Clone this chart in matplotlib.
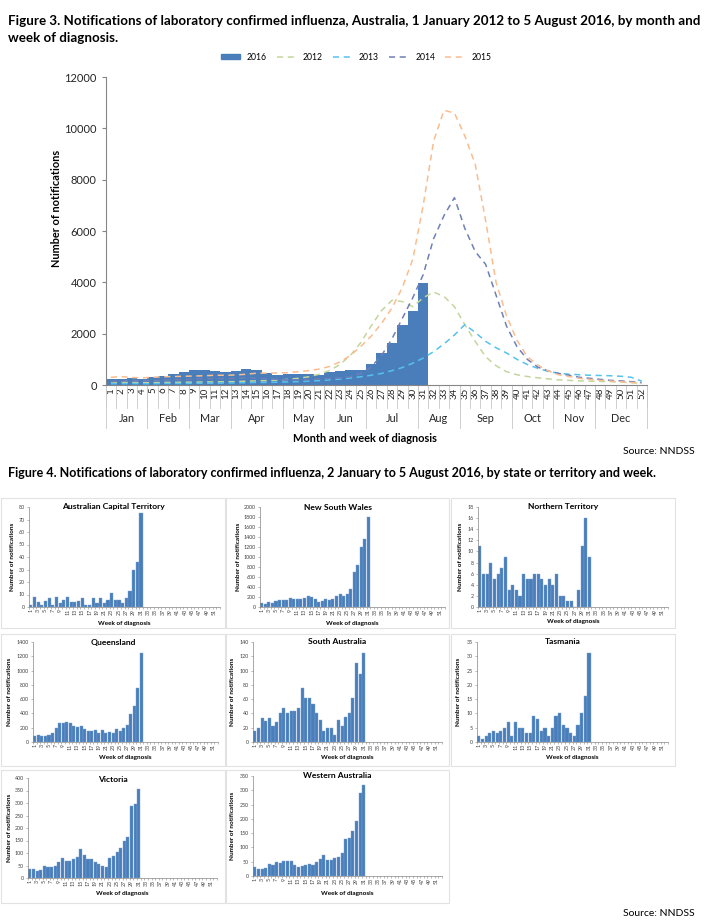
import numpy as np
import matplotlib
matplotlib.use('Agg')
import matplotlib.pyplot as plt
import matplotlib.transforms as mtransforms
from matplotlib.patches import Rectangle
from matplotlib.lines import Line2D

plt.rcParams['font.family'] = ['Lato', 'DejaVu Sans']

W, H = 713, 924

# ---- Figure 3 data ----
weeks = np.arange(1, 53)
weeks_2016 = np.arange(1, 32)

y2016 = [240, 230, 260, 230, 300, 350, 410, 520, 580, 600, 560, 510, 530, 640, 570, 480,
         400, 430, 410, 440, 400, 490, 550, 570, 600, 830, 1260, 1620, 2350, 2870, 3960]

y2012 = [100, 110, 100, 90, 90, 100, 100, 110, 110, 120, 120, 130, 130, 150, 160, 170,
         190, 220, 260, 320, 420, 560, 800, 1150, 1650, 2300, 2900, 3300, 3250, 3050, 3400, 3620,
         3450, 3050, 2350, 1700, 1100, 750, 520, 400, 330, 280, 240, 200, 180, 160, 150, 140,
         130, 110, 90, 70]

y2013 = [50, 50, 60, 50, 50, 60, 60, 60, 70, 70, 70, 80, 80, 90, 100, 100,
         110, 120, 130, 150, 170, 200, 230, 270, 320, 380, 450, 560, 680, 850, 1050, 1300,
         1600, 1950, 2350, 2050, 1700, 1450, 1250, 1000, 800, 650, 530, 460, 420, 400, 380, 370,
         360, 340, 300, 150]

y2014 = [130, 150, 170, 160, 170, 190, 200, 220, 230, 240, 250, 250, 260, 280, 260, 240,
         220, 200, 200, 210, 230, 250, 270, 320, 450, 700, 1150, 1800, 2600, 3400, 4300, 5700,
         6600, 7300, 6100, 5200, 4700, 3500, 2300, 1500, 1000, 700, 550, 450, 380, 300, 260, 220,
         180, 160, 130, 90]

y2015 = [300, 330, 290, 280, 300, 320, 330, 340, 350, 360, 380, 380, 390, 420, 460, 460,
         470, 480, 520, 560, 620, 720, 900, 1150, 1500, 1900, 2400, 3000, 3800, 4900, 7000, 9500,
         10700, 10600, 9700, 8600, 6400, 4000, 2700, 1750, 1100, 780, 550, 400, 330, 260, 220, 180,
         150, 130, 100, 70]

month_names = ['Jan', 'Feb', 'Mar', 'Apr', 'May', 'Jun', 'Jul', 'Aug', 'Sep', 'Oct', 'Nov', 'Dec']
month_len = [4, 4, 4, 5, 4, 4, 5, 4, 5, 4, 4, 5]

# ---- Figure 4 data (weeks 1-31, 2016) ----
act = [2, 8, 4, 2, 5, 7, 2, 8, 3, 6, 8, 4, 4, 5, 7, 2, 2, 7, 3, 7, 3, 6, 11, 6, 6, 3, 7, 13, 30, 36, 75]
nsw = [80, 60, 100, 90, 120, 140, 140, 150, 180, 160, 160, 160, 180, 230, 210, 160,
       110, 130, 160, 150, 170, 230, 260, 230, 270, 360, 700, 850, 1200, 1370, 1800]
nt = [11, 6, 6, 8, 5, 6, 7, 9, 3, 4, 3, 2, 6, 5, 5, 6, 6, 5, 4, 5, 4, 6, 2, 2, 1, 1, 0, 3, 11, 16, 9]
qld = [80, 100, 90, 80, 100, 120, 190, 260, 260, 285, 260, 230, 210, 220, 185, 160,
       150, 170, 130, 165, 120, 135, 130, 180, 150, 190, 240, 390, 510, 750, 1250]
sa = [15, 19, 33, 29, 34, 22, 28, 41, 47, 40, 44, 44, 48, 76, 62, 62, 53, 40, 31, 15, 19, 19,
      10, 31, 23, 35, 40, 62, 110, 95, 125]
tas = [2, 1, 2, 3, 4, 3, 4, 5, 7, 2, 7, 5, 5, 3, 3, 9, 8, 4, 5, 2, 5, 9, 10, 6, 5, 3, 2, 6, 10, 16, 31]
vic = [38, 35, 28, 32, 50, 45, 43, 50, 65, 80, 70, 70, 75, 85, 118, 92, 75, 75, 65, 55, 50, 45,
       80, 88, 103, 120, 148, 165, 290, 297, 357]
wa = [30, 25, 25, 28, 42, 38, 48, 45, 53, 53, 53, 38, 30, 35, 37, 42, 40, 48, 60, 72, 55, 55,
      62, 68, 80, 128, 132, 157, 192, 292, 318]

state_names = ['Australian Capital Territory', 'New South Wales', 'Northern Territory',
               'Queensland', 'South Australia', 'Tasmania', 'Victoria', 'Western Australia']
state_values = [act, nsw, nt, qld, sa, tas, vic, wa]
state_ymax = [80, 2000, 18, 1400, 140, 35, 400, 350]
state_ystep = [10, 200, 2, 200, 20, 5, 50, 50]

fig = plt.figure(figsize=(W / 100, H / 100), dpi=100)


def px_axes(l, t, r, b):
    return fig.add_axes([l / W, 1 - b / H, (r - l) / W, (b - t) / H])


def px_text(x, y, s, **kw):
    return fig.text(x / W, 1 - y / H, s, **kw)


# ---------- Figure 3 ----------
px_text(8, 21, 'Figure 3. Notifications of laboratory confirmed influenza, Australia, 1 January 2012 to 5 August 2016, by month and',
        fontsize=9.6, fontweight='bold', va='center')
px_text(8, 38, 'week of diagnosis.', fontsize=9.6, fontweight='bold', va='center')

ax = px_axes(105.7, 77, 647, 385)
ax.bar(weeks_2016, y2016, width=1.0, color='#4a7ebb', zorder=2)
line_specs = [(y2012, '#c3d69b'), (y2013, '#55c2ee'), (y2014, '#6f80b8'), (y2015, '#f9bd8f')]
for vals, col in line_specs:
    ax.plot(weeks, vals, color=col, lw=1.1, dashes=(4, 3), zorder=3)

ax.set_xlim(0.5, 52.5)
ax.set_ylim(0, 12000)
ax.set_yticks(range(0, 12001, 2000))
ax.tick_params(axis='y', labelsize=8, colors='#868686', labelcolor='#262626', length=3)
ax.set_xticks(weeks)
ax.set_xticklabels([str(w) for w in weeks], rotation=90, fontsize=7, color='#262626')
ax.tick_params(axis='x', length=0, pad=2)
for s in ['top', 'right']:
    ax.spines[s].set_visible(False)
for s in ['left', 'bottom']:
    ax.spines[s].set_color('#868686')
    ax.spines[s].set_linewidth(0.8)

trans = mtransforms.blended_transform_factory(ax.transData, ax.transAxes)
for b in np.arange(0.5, 53.0, 1.0):
    ax.plot([b, b], [0, -0.075], transform=trans, color='#c8c8c8', lw=0.6, clip_on=False)
edges = np.concatenate([[0.5], 0.5 + np.cumsum(month_len)])
for b in edges:
    ax.plot([b, b], [0, -0.14], transform=trans, color='#c8c8c8', lw=0.6, clip_on=False)
for name, a, b in zip(month_names, edges[:-1], edges[1:]):
    ax.text((a + b) / 2, -0.11, name, transform=trans, ha='center', va='center',
            fontsize=7.8, color='#262626')

px_text(365, 438, 'Month and week of diagnosis', fontsize=7.9, fontweight='bold',
        ha='center', va='center')
px_text(57, 208, 'Number of notifications', fontsize=7.9, fontweight='bold',
        ha='center', va='center', rotation=90)

handles = [Rectangle((0, 0), 1, 1, color='#4a7ebb')]
for vals, col in line_specs:
    handles.append(Line2D([], [], color=col, lw=1.1, dashes=(4, 3)))
fig.legend(handles, ['2016', '2012', '2013', '2014', '2015'], loc='center',
           bbox_to_anchor=(356 / W, 1 - 57 / H), ncol=5, frameon=False, fontsize=6.2,
           handlelength=2.2, handleheight=0.5, handletextpad=0.8, columnspacing=1.2)

px_text(695, 451, 'Source: NNDSS', fontsize=7.5, ha='right', va='center')

# ---------- Figure 4 ----------
px_text(8, 473, 'Figure 4. Notifications of laboratory confirmed influenza, 2 January to 5 August 2016, by state or territory and week.',
        fontsize=9.0, fontweight='bold', va='center')

# box (l, t, r, b), axes (l, t, r, b), title y, ylabel x, xlabel y
layout = [
    ((1, 498, 225, 628), (29, 507, 220, 607), 507, 13, 623),
    ((226, 498, 449, 628), (260, 507, 445, 607), 507, 238, 623),
    ((451, 498, 675, 628), (478, 507, 668, 607), 507, 460, 622),
    ((1, 634, 225, 766), (33, 642, 218, 742), 642, 10, 758),
    ((226, 634, 449, 766), (253, 642, 442, 742), 642, 233, 758),
    ((451, 634, 675, 766), (477, 642, 668, 742), 642, 458, 758),
    ((1, 770, 225, 903), (28, 778, 217, 878), 779, 10, 894),
    ((226, 770, 449, 903), (253, 776, 442, 876), 776, 233, 893),
]

for name, vals, ymax, ystep, lay in zip(state_names, state_values, state_ymax, state_ystep, layout):
    box, axp, ty, ylx, xly = lay
    fig.add_artist(Rectangle((box[0] / W, 1 - box[3] / H), (box[2] - box[0]) / W,
                             (box[3] - box[1]) / H, transform=fig.transFigure,
                             fill=False, ec='#e2e2e2', lw=0.8))
    a = px_axes(*axp)
    a.bar(weeks_2016, vals, width=0.85, color='#4a7ebb', edgecolor='#7aa0d2', lw=0.3)
    a.set_xlim(0.5, 52.5)
    a.set_ylim(0, ymax)
    a.set_yticks(np.arange(0, ymax + ystep / 2, ystep))
    a.set_xticks(weeks[::2])
    a.set_xticklabels([str(w) for w in weeks[::2]], rotation=90)
    a.set_xticks(np.arange(0.5, 53.0, 1.0), minor=True)
    a.tick_params(axis='both', which='major', labelsize=3.8, labelcolor='#404040',
                  colors='#868686', length=1.5, width=0.4, pad=1.5)
    a.tick_params(axis='x', which='major', length=0)
    a.tick_params(axis='x', which='minor', length=1.5, width=0.4, colors='#868686')
    for s in ['top', 'right']:
        a.spines[s].set_visible(False)
    for s in ['left', 'bottom']:
        a.spines[s].set_color('#868686')
        a.spines[s].set_linewidth(0.5)
    px_text((box[0] + box[2]) / 2, ty, name, fontsize=6.1, fontweight='bold',
            ha='center', va='center')
    px_text(ylx, (axp[1] + axp[3]) / 2, 'Number of notifications', fontsize=4.6,
            fontweight='bold', ha='center', va='center', rotation=90)
    px_text((axp[0] + axp[2]) / 2, xly, 'Week of diagnosis', fontsize=4.6,
            fontweight='bold', ha='center', va='center')

px_text(695, 913, 'Source: NNDSS', fontsize=7.5, ha='right', va='center')

fig.savefig('out.png', dpi=100)
